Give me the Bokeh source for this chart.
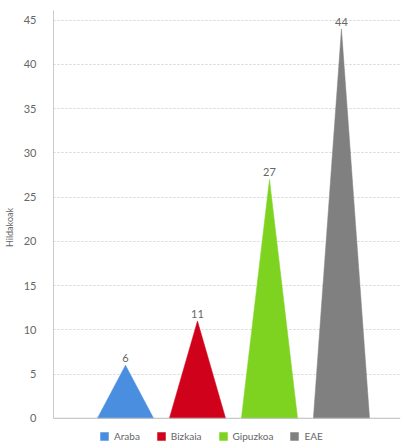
from bokeh.plotting import figure
from bokeh.models import Range1d, Legend, LegendItem, SingleIntervalTicker, ColumnDataSource, Span
from bokeh.core.properties import value
from bokeh.embed import file_html
from bokeh.resources import INLINE

categories = ["Araba", "Bizkaia", "Gipuzkoa", "EAE"]
values = [6, 11, 27, 44]
colors = ["#4a8fdf", "#d0021b", "#7ed321", "#808080"]
y_title = "Hildakoak"

FONT = "Lato"
half_w = 0.39
y_top = 46.1

p = figure(frame_width=347, frame_height=434, output_backend="svg", toolbar_location=None,
           x_range=Range1d(0, 4.82), y_range=Range1d(-2.97, y_top),
           min_border_left=0, min_border_right=5, min_border_top=10, min_border_bottom=0)
p.outline_line_color = None
p.xgrid.grid_line_color = None
p.ygrid.grid_line_color = "#d4d4d4"
p.ygrid.grid_line_dash = "2 2"
p.ygrid.ticker = SingleIntervalTicker(interval=5)

p.yaxis.ticker = SingleIntervalTicker(interval=5)
p.yaxis.bounds = (0, y_top)
p.yaxis.axis_line_color = "#cccccc"
p.yaxis.major_tick_line_color = None
p.yaxis.minor_tick_line_color = None
p.yaxis.major_label_standoff = 11
p.yaxis.major_label_text_font = FONT
p.yaxis.major_label_text_font_size = "11px"
p.yaxis.major_label_text_color = "#666666"
p.yaxis.axis_label = y_title
p.yaxis.axis_label_text_font = FONT
p.yaxis.axis_label_text_font_size = "9px"
p.yaxis.axis_label_text_font_style = "normal"
p.yaxis.axis_label_text_color = "#666666"
p.yaxis.axis_label_standoff = 6

p.xaxis.visible = False
p.add_layout(Span(location=0, dimension="width", line_color="#c0c0c0", line_width=1))

items = []
for i, (cat, v, c) in enumerate(zip(categories, values, colors)):
    xc = i + 1
    src = ColumnDataSource(dict(xs=[[xc - half_w, xc, xc + half_w]], ys=[[0, v, 0]]))
    r = p.patches("xs", "ys", source=src, fill_color=c, line_color=c, line_width=0.5)
    items.append(LegendItem(label=cat, renderers=[r]))

lab = ColumnDataSource(dict(x=[i + 1 for i in range(len(values))], y=values,
                            t=[str(v) for v in values]))
p.text("x", "y", text="t", source=lab, text_align="center", text_baseline="bottom",
       y_offset=-3, text_font=value(FONT), text_font_size="11px", text_color="#666666")

legend = Legend(items=items, orientation="horizontal", location=(46, 2),
                glyph_width=10, glyph_height=10, label_standoff=5, spacing=16,
                padding=0, margin=0, border_line_color=None, background_fill_alpha=0,
                label_text_font=FONT, label_text_font_size="10px",
                label_text_color="#666666")
p.add_layout(legend, "center")

open("out.html", "w").write(file_html(p, INLINE))
